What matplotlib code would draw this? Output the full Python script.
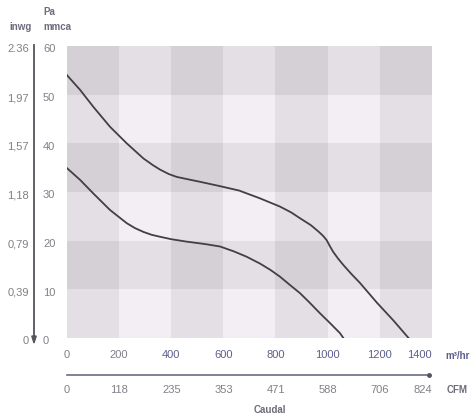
import matplotlib.pyplot as plt
import matplotlib.transforms as mtransforms
import numpy as np

# caudal (m3/hr) y presion (mmca)
caudal_alta = [0, 50, 101, 165, 229, 293, 330, 357, 390, 421, 465, 510, 587, 660, 740, 817, 860, 894, 935,
               964, 982, 996, 1008, 1021, 1040, 1060, 1090, 1124, 1188, 1252, 1310]
presion_alta = [54.0, 51.0, 47.5, 43.4, 40.0, 36.9, 35.5, 34.6, 33.7, 33.1, 32.6, 32.1, 31.2, 30.3, 28.7,
                27.0, 25.8, 24.6, 23.2, 21.9, 21.0, 20.1, 18.9, 17.7, 16.3, 15.0, 13.2, 11.3, 7.3, 3.6, 0.0]

caudal_baja = [0, 50, 101, 165, 229, 260, 293, 325, 357, 400, 459, 530, 587, 640, 689, 740, 780, 817, 855,
               894, 930, 970, 1010, 1047, 1060]
presion_baja = [34.9, 32.5, 29.7, 26.3, 23.6, 22.6, 21.8, 21.2, 20.8, 20.3, 19.8, 19.3, 18.8, 17.8, 16.7,
                15.3, 14.0, 12.6, 10.9, 9.2, 7.3, 5.1, 3.0, 1.0, 0.0]

ticks_m3 = [0, 200, 400, 600, 800, 1000, 1200, 1400]
labels_cfm = ['0', '118', '235', '353', '471', '588', '706', '824']
ticks_pa = [0, 10, 20, 30, 40, 50, 60]
labels_inwg = ['0', '0,39', '0,79', '1,18', '1,57', '1,97', '2.36']

plt.rcParams['font.family'] = ['Liberation Sans', 'DejaVu Sans']
gris = '#808088'
azul = '#5c5f8a'
rotulo = '#6d6c7c'

fig = plt.figure(figsize=(4.77, 4.18), dpi=100)
ax = fig.add_axes([67 / 477, 1 - 338 / 418, 365 / 477, 292 / 418])

# fondo a cuadros
col_osc = np.array([1, 0, 1, 0, 1, 0, 1])
fil_osc = np.array([0, 1, 0, 1, 0, 1])
tono = 242 - 15 * fil_osc[:, None] - 15 * col_osc[None, :]
rgb = np.stack([tono, tono - 4, tono + 2], axis=-1) / 255.0
ax.imshow(rgb, extent=[0, 1400, 0, 60], origin='lower', aspect='auto', interpolation='nearest')

ax.plot(caudal_alta, presion_alta, color='#403f46', lw=1.3, solid_joinstyle='round')
ax.plot(caudal_baja, presion_baja, color='#403f46', lw=1.3, solid_joinstyle='round')

ax.set_xlim(0, 1400)
ax.set_ylim(0, 60)
ax.axis('off')

# eje vertical izquierdo
tf = fig.transFigure
fig.add_artist(plt.Line2D([34 / 477, 34 / 477], [1 - 45 / 418, 1 - 337 / 418], color='#55545c', lw=1.3,
                          transform=tf))
fig.add_artist(plt.Polygon([[31.8 / 477, 1 - 336 / 418], [36.2 / 477, 1 - 336 / 418], [34 / 477, 1 - 343 / 418]],
                           closed=True, color='#55545c', transform=tf))

mezcla = mtransforms.blended_transform_factory(fig.transFigure, ax.transData)
bajar = mezcla + mtransforms.ScaledTranslation(0, -0.035, fig.dpi_scale_trans)
for v, l in zip(ticks_pa, labels_inwg):
    fig.text(29 / 477, v, l, transform=bajar, ha='right', va='center', fontsize=8, color=gris)
    fig.text(43 / 477, v, str(v), transform=bajar, ha='left', va='center', fontsize=8, color=gris)

fig.text(43 / 477, 1 - 12 / 418, 'Pa', ha='left', va='center', fontsize=7, fontweight='bold', color=rotulo)
fig.text(43 / 477, 1 - 27 / 418, 'mmca', ha='left', va='center', fontsize=7, fontweight='bold', color=rotulo)
fig.text(9 / 477, 1 - 27 / 418, 'inwg', ha='left', va='center', fontsize=7, fontweight='bold', color=rotulo)

# ejes horizontales
mezcla_x = mtransforms.blended_transform_factory(ax.transData, fig.transFigure)
for v, l in zip(ticks_m3, labels_cfm):
    c = gris if v < 400 else azul
    al = 'right' if v == ticks_m3[-1] else 'center'
    fig.text(v, 1 - 355 / 418, str(v), transform=mezcla_x, ha=al, va='center', fontsize=8, color=c)
    fig.text(v, 1 - 390 / 418, l, transform=mezcla_x, ha=al, va='center', fontsize=8, color=gris)

fig.add_artist(plt.Line2D([0, 1390], [1 - 375 / 418, 1 - 375 / 418], color='#6a6c8a', lw=1.2,
                          transform=mezcla_x))
fig.add_artist(plt.Line2D([1390], [1 - 375 / 418], marker='o', ms=2.5, color='#55545c',
                          transform=mezcla_x))

fig.text(445 / 477, 1 - 356 / 418, 'm³/hr', ha='left', va='center', fontsize=7, fontweight='bold', color=azul)
fig.text(447 / 477, 1 - 390 / 418, 'CFM', ha='left', va='center', fontsize=7, fontweight='bold', color=rotulo)
fig.text(270 / 477, 1 - 410 / 418, 'Caudal', ha='center', va='center', fontsize=7, fontweight='bold',
         color=rotulo)

fig.savefig('out.png', dpi=100)
